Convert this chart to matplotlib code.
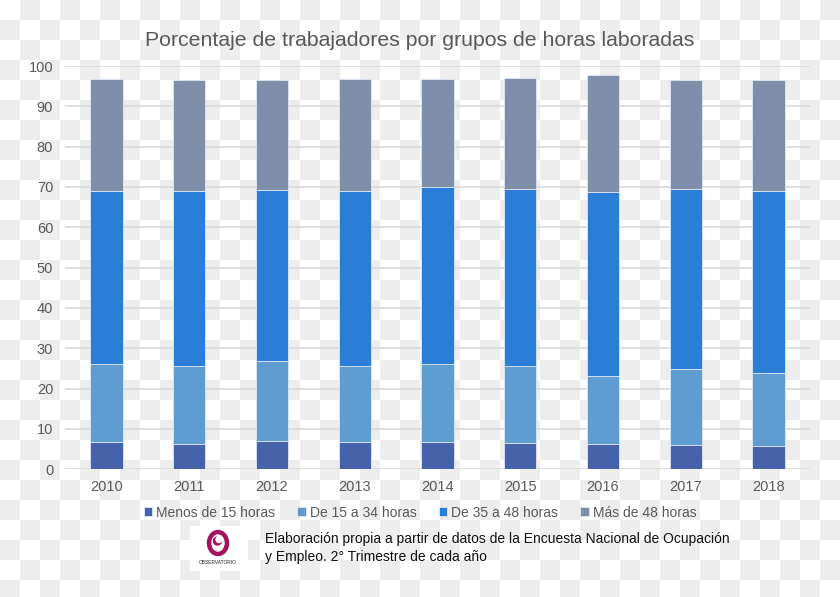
import numpy as np
import matplotlib
matplotlib.use('Agg')
import matplotlib.pyplot as plt
from matplotlib.patches import Ellipse, Rectangle

plt.rcParams['font.family'] = ['Liberation Sans', 'DejaVu Sans']

years = ['2010', '2011', '2012', '2013', '2014', '2015', '2016', '2017', '2018']
menos15 = [6.8, 6.3, 7.1, 6.7, 6.7, 6.5, 6.3, 6.0, 5.9]
de15a34 = [19.4, 19.3, 19.8, 19.0, 19.3, 19.0, 16.9, 18.9, 18.1]
de35a48 = [42.7, 43.3, 42.4, 43.4, 44.0, 44.0, 45.6, 44.6, 45.0]
mas48 = [27.9, 27.7, 27.3, 27.6, 26.9, 27.5, 29.0, 27.1, 27.6]

series = [menos15, de15a34, de35a48, mas48]
labels = ['Menos de 15 horas', 'De 15 a 34 horas', 'De 35 a 48 horas', 'Más de 48 horas']
colors = ['#4662aa', '#5f9cd2', '#2a7ed7', '#7f8faa']

W, H = 840, 597
f = plt.figure(figsize=(W / 100, H / 100), dpi=100)
f.patch.set_alpha(0)

# checkered background like the original
yy, xx = np.mgrid[0:H, 0:W]
chk = ((xx // 20 + yy // 20) % 2).astype(float)
bg = np.where(chk[..., None] == 1, 0.933, 1.0) * np.ones((H, W, 3))
f.figimage(bg, xo=0, yo=0, origin='upper', zorder=-10)

ax = f.add_axes([65 / W, 1 - 469.3 / H, 745 / W, (469.3 - 66) / H])
ax.set_facecolor('none')
x = np.arange(len(years))
bottom = np.zeros(len(years))
for vals, lab, c in zip(series, labels, colors):
    ax.bar(x, vals, 0.39, bottom=bottom, color=c, label=lab,
           edgecolor='#dfe8f5', linewidth=0.6, zorder=3)
    bottom += np.array(vals)

ax.set_xlim(-0.5, len(years) - 0.5)
ax.set_ylim(0, 100)
ax.set_yticks(range(0, 101, 10))
ax.set_xticks(x)
ax.set_xticklabels(years)
ax.grid(axis='y', color='#d9d9d9', linewidth=1.2, zorder=0)
for s in ax.spines.values():
    s.set_visible(False)
ax.tick_params(length=0, labelsize=10.5, labelcolor='#595959')
ax.tick_params(axis='y', pad=8.5)
ax.tick_params(axis='x', pad=8)

f.text(0.5, 1 - 40 / H, 'Porcentaje de trabajadores por grupos de horas laboradas',
       ha='center', va='center', fontsize=15.3, color='#595959')

f.legend(loc='center', bbox_to_anchor=(0.5, 1 - 512.7 / H), ncol=4, frameon=False,
         fontsize=10, labelcolor='#595959', handlelength=0.6, handleheight=0.6,
         handletextpad=0.3, columnspacing=1.6)

f.text(265 / W, 1 - 548 / H,
       'Elaboración propia a partir de datos de la Encuesta Nacional de Ocupación\ny Empleo. 2° Trimestre de cada año',
       ha='left', va='center', fontsize=10, color='#111111', linespacing=1.3)

# logo
lg = f.add_axes([190 / W, 1 - 571 / H, 58 / W, 45 / H])
lg.set_xlim(0, 58)
lg.set_ylim(0, 45)
lg.axis('off')
lg.add_patch(Rectangle((0, 0), 58, 45, color='white'))
lg.add_patch(Ellipse((28, 28), 21, 25, color='#a4135f'))
lg.add_patch(Ellipse((28, 28), 12, 16, color='white'))
lg.add_patch(Ellipse((27.5, 30), 8, 8, color='#a4135f'))
lg.add_patch(Ellipse((29, 31.5), 6, 6, color='white'))
lg.text(28, 8, 'OBSERVATORIO', ha='center', va='center', fontsize=3.5, color='#222222')

f.savefig('out.png', dpi=100)
plt.close(f)
